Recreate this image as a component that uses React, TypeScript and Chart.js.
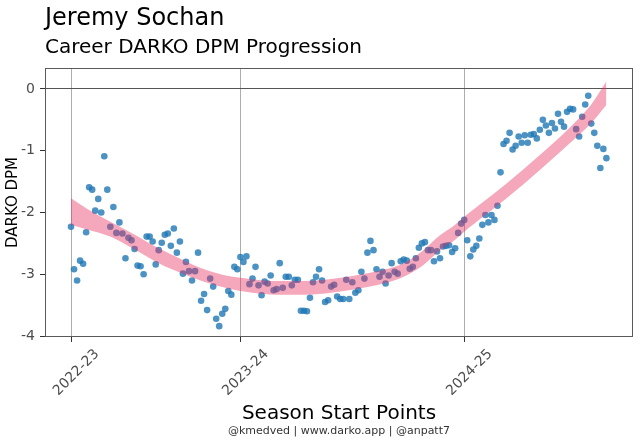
import React, { useEffect, useRef } from "react";
import { Chart, registerables } from "chart.js";

Chart.register(...registerables);

const TITLE = "Jeremy Sochan";
const SUBTITLE = "Career DARKO DPM Progression";
const CAPTION = "@kmedved | www.darko.app | @anpatt7";
const X_TITLE = "Season Start Points";
const Y_TITLE = "DARKO DPM";

const seasonStarts = [0, 56, 130];
const seasonLabels = ["2022-23", "2023-24", "2024-25"];
const yTicks = [-4, -3, -2, -1, 0];

// DARKO DPM per game (game index = position in array)
const dpmSeason1 = [
  -2.23, -2.92, -3.1, -2.78, -2.83, -2.32, -1.59, -1.63, -1.97, -1.78,
  -2.0, -1.09, -1.63, -2.23, -1.91, -2.33, -2.16, -2.34, -2.74, -2.41,
  -2.45, -2.59, -2.86, -2.87, -3.0, -2.39, -2.39, -2.47, -2.84, -2.61,
  -2.49, -2.36, -2.34, -2.54, -2.26, -2.65, -2.47, -2.99, -2.8, -2.95,
  -3.1, -2.95, -2.65, -3.43, -3.32, -3.58, -3.07, -3.2, -3.72, -3.84,
  -3.64, -3.56, -3.27, -3.33, -2.88, -2.92,
];
const dpmSeason2 = [
  -2.72, -2.8, -2.71, -3.16, -3.07, -2.88, -3.18, -3.34, -3.12, -3.15,
  -3.02, -3.26, -3.24, -2.82, -3.22, -3.04, -3.04, -3.18, -3.09, -3.09,
  -3.59, -3.59, -3.6, -3.38, -3.13, -3.04, -2.92, -3.1, -3.45, -3.42,
  -3.2, -3.17, -3.36, -3.4, -3.4, -3.09, -3.4, -3.13, -3.3, -3.26,
  -2.96, -3.07, -2.65, -2.46, -2.61, -2.92, -3.04, -2.96, -3.15, -3.02,
  -2.82, -2.96, -2.99, -2.79, -2.76, -2.78, -2.91, -2.88, -2.74, -2.57,
  -2.5, -2.48, -2.61, -2.61, -2.79, -2.63, -2.74, -2.55, -2.54, -2.53,
  -2.64, -2.58, -2.33, -2.18,
];
const dpmSeason3 = [
  -2.12, -2.45, -2.71, -2.6, -2.54, -2.42, -2.2, -2.04, -2.16, -2.04,
  -2.12, -1.89, -1.35, -0.89, -0.84, -0.71, -0.98, -0.92, -0.77, -0.87,
  -0.75, -0.87, -0.74, -0.73, -0.8, -0.66, -0.5, -0.59, -0.71, -0.55,
  -0.64, -0.4, -0.53, -0.61, -0.37, -0.32, -0.33, -0.65, -0.77, -0.45,
  -0.25, -0.11, -0.56, -0.71, -0.92, -1.28, -0.97, -1.12,
];

// smoothed trend confidence band
const bandX = [0, 5, 13, 20, 29, 37, 44, 52, 60, 68, 76, 84, 93, 104, 110, 116, 122, 127, 130, 137, 144, 155, 166, 172, 177];
const bandUpper = [-1.77, -1.93, -2.15, -2.33, -2.58, -2.77, -2.92, -3.03, -3.08, -3.11, -3.11, -3.09, -3.03, -2.92, -2.82, -2.63, -2.37, -2.2, -2.07, -1.8, -1.53, -1.07, -0.57, -0.25, 0.12];
const bandLower = [-2.2, -2.27, -2.39, -2.57, -2.82, -2.99, -3.12, -3.23, -3.3, -3.33, -3.33, -3.31, -3.25, -3.14, -3.04, -2.87, -2.61, -2.44, -2.31, -2.04, -1.77, -1.31, -0.83, -0.55, -0.26];

const FONT = '"DejaVu Sans", sans-serif';

const decorPlugin = {
  id: "decor",
  afterDraw(chart: any) {
    const { ctx, chartArea } = chart;
    const { left, right, top, bottom } = chartArea;
    ctx.save();
    ctx.strokeStyle = "#5a5a5a";
    ctx.lineWidth = 1;
    ctx.strokeRect(Math.round(left) + 0.5, Math.round(top) + 0.5, Math.round(right - left) - 1, Math.round(bottom - top) - 1);
    ctx.fillStyle = "#000";
    ctx.textAlign = "left";
    ctx.textBaseline = "alphabetic";
    ctx.font = `24px ${FONT}`;
    ctx.fillText(TITLE, left, 25);
    ctx.font = `20px ${FONT}`;
    ctx.fillText(SUBTITLE, left, 53);
    ctx.font = `11px ${FONT}`;
    ctx.fillStyle = "#333";
    ctx.textAlign = "center";
    ctx.fillText(CAPTION, (left + right) / 2, 434);
    ctx.restore();
  },
};

export default function App() {
  const ref = useRef<HTMLCanvasElement>(null);
  useEffect(() => {
    document.body.style.margin = "0";
    const dpm = [...dpmSeason1, ...dpmSeason2, ...dpmSeason3];
    const band = (arr: number[]) => bandX.map((x, i) => ({ x, y: arr[i] }));
    const chart = new Chart(ref.current as HTMLCanvasElement, {
      type: "scatter",
      data: {
        datasets: [
          {
            type: "line",
            data: band(bandUpper),
            showLine: true,
            borderWidth: 0,
            borderColor: "rgba(0,0,0,0)",
            pointRadius: 0,
            fill: "+1",
            backgroundColor: "rgba(230,45,95,0.42)",
            cubicInterpolationMode: "monotone",
            order: 0,
          } as any,
          {
            type: "line",
            data: band(bandLower),
            showLine: true,
            borderWidth: 0,
            borderColor: "rgba(0,0,0,0)",
            pointRadius: 0,
            fill: false,
            cubicInterpolationMode: "monotone",
            order: 0,
          } as any,
          {
            type: "scatter",
            data: dpm.map((y, i) => ({ x: i, y })),
            pointRadius: 3.3,
            pointBackgroundColor: "rgba(31,119,180,0.8)",
            backgroundColor: "rgba(31,119,180,0.8)",
            borderWidth: 0,
            pointBorderWidth: 0,
            order: 1,
          } as any,
        ],
      },
      options: {
        responsive: true,
        maintainAspectRatio: false,
        animation: false,
        layout: { padding: { top: 68, right: 7, left: 0, bottom: 0 } },
        plugins: { legend: { display: false }, tooltip: { enabled: false } },
        scales: {
          x: {
            type: "linear",
            min: -8.6,
            max: 185.8,
            afterBuildTicks: (s: any) => {
              s.ticks = seasonStarts.map((v) => ({ value: v }));
            },
            afterFit: (s: any) => {
              s.height = 106;
            },
            ticks: {
              callback: (v: any) => seasonLabels[seasonStarts.indexOf(Number(v))],
              minRotation: 45,
              maxRotation: 45,
              autoSkip: false,
              labelOffset: 26,
              padding: 4,
              color: "#4d4d4d",
              font: { family: FONT, size: 14 },
            },
            grid: { color: "rgba(0,0,0,0.32)", tickColor: "#333", tickLength: 5, lineWidth: 1 },
            border: { display: false },
            title: {
              display: true,
              text: X_TITLE,
              color: "#000",
              font: { family: FONT, size: 20 },
              padding: { top: 0, bottom: 17 },
            },
          },
          y: {
            type: "linear",
            min: -4.016,
            max: 0.34,
            afterBuildTicks: (s: any) => {
              s.ticks = yTicks.map((v) => ({ value: v }));
            },
            afterFit: (s: any) => {
              s.width = 45;
            },
            ticks: {
              padding: 5,
              color: "#4d4d4d",
              font: { family: FONT, size: 14 },
            },
            grid: {
              color: (c: any) => (c.tick && c.tick.value === 0 ? "#555" : "rgba(0,0,0,0)"),
              tickColor: "#333",
              tickLength: 5,
              lineWidth: 1,
            },
            border: { display: false },
            title: {
              display: true,
              text: Y_TITLE,
              color: "#000",
              font: { family: FONT, size: 15 },
              padding: { top: 4, bottom: 0 },
            },
          },
        },
      } as any,
      plugins: [decorPlugin],
    });
    return () => chart.destroy();
  }, []);
  return (
    <div style={{ width: 640, height: 443, position: "relative" }}>
      <canvas ref={ref} />
    </div>
  );
}
